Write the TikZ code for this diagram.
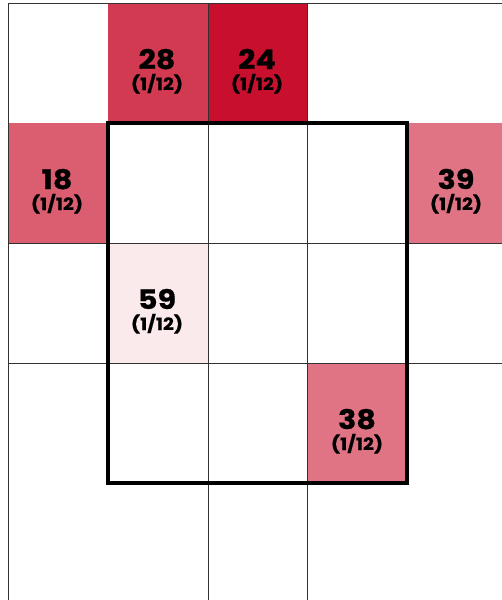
\documentclass[tikz,border=0pt]{standalone}
\usepackage{fontspec}
\setmainfont{Poppins}[BoldFont={* Bold}]
\newfontfamily\numfont{Poppins}[UprightFont={* Bold}, FakeStretch=1.12, FakeBold=0.6]
\definecolor{cA}{RGB}{210,58,82}
\definecolor{cB}{RGB}{200,16,46}
\definecolor{cC}{RGB}{219,94,112}
\definecolor{cD}{RGB}{224,116,132}
\definecolor{cE}{RGB}{250,234,236}
\definecolor{gridc}{RGB}{50,50,50}
\tikzset{
  gridline/.style={draw=gridc, line width=0.9pt},
  numlbl/.style={anchor=base, inner sep=0pt, text=black, font=\numfont\fontsize{27}{27}\selectfont},
  fraclbl/.style={anchor=base, inner sep=0pt, text=black, font=\numfont\fontsize{17}{17}\selectfont},
}
\begin{document}
\begin{tikzpicture}[x=1pt,y=-1pt]
\useasboundingbox (0,0) rectangle (502,600);
\fill[white] (0,0) rectangle (502,600);
% coloured cells
\fill[cA] (108,3) rectangle (208,123);
\fill[cB] (208,3) rectangle (307,123);
\fill[cC] (8,123) rectangle (108,243);
\fill[cD] (407,123) rectangle (507,243);
\fill[cE] (108,243) rectangle (208,363);
\fill[cD] (307,363) rectangle (407,483);
% grid lines
\draw[gridline] (8,600) -- (8,3) -- (502,3);
\foreach \x in {208,307} \draw[gridline] (\x,3) -- (\x,600);
\foreach \y in {243,363} \draw[gridline] (8,\y) -- (502,\y);
% thick box
\draw[black, line width=4pt] (108,123) rectangle (407,483);
% labels
\node[numlbl] (n28) at (157,69) {28};
\node[fraclbl] (f28) at (157,90) {(1/12)};
\node[numlbl] (n24) at (257,69) {24};
\node[fraclbl] (f24) at (257,90) {(1/12)};
\node[numlbl] (n18) at (57,189) {18};
\node[fraclbl] (f18) at (57,210) {(1/12)};
\node[numlbl] (n39) at (456,189) {39};
\node[fraclbl] (f39) at (456,210) {(1/12)};
\node[numlbl] (n59) at (157,309) {59};
\node[fraclbl] (f59) at (157,330) {(1/12)};
\node[numlbl] (n38) at (357,429) {38};
\node[fraclbl] (f38) at (357,450) {(1/12)};
\end{tikzpicture}
\end{document}
